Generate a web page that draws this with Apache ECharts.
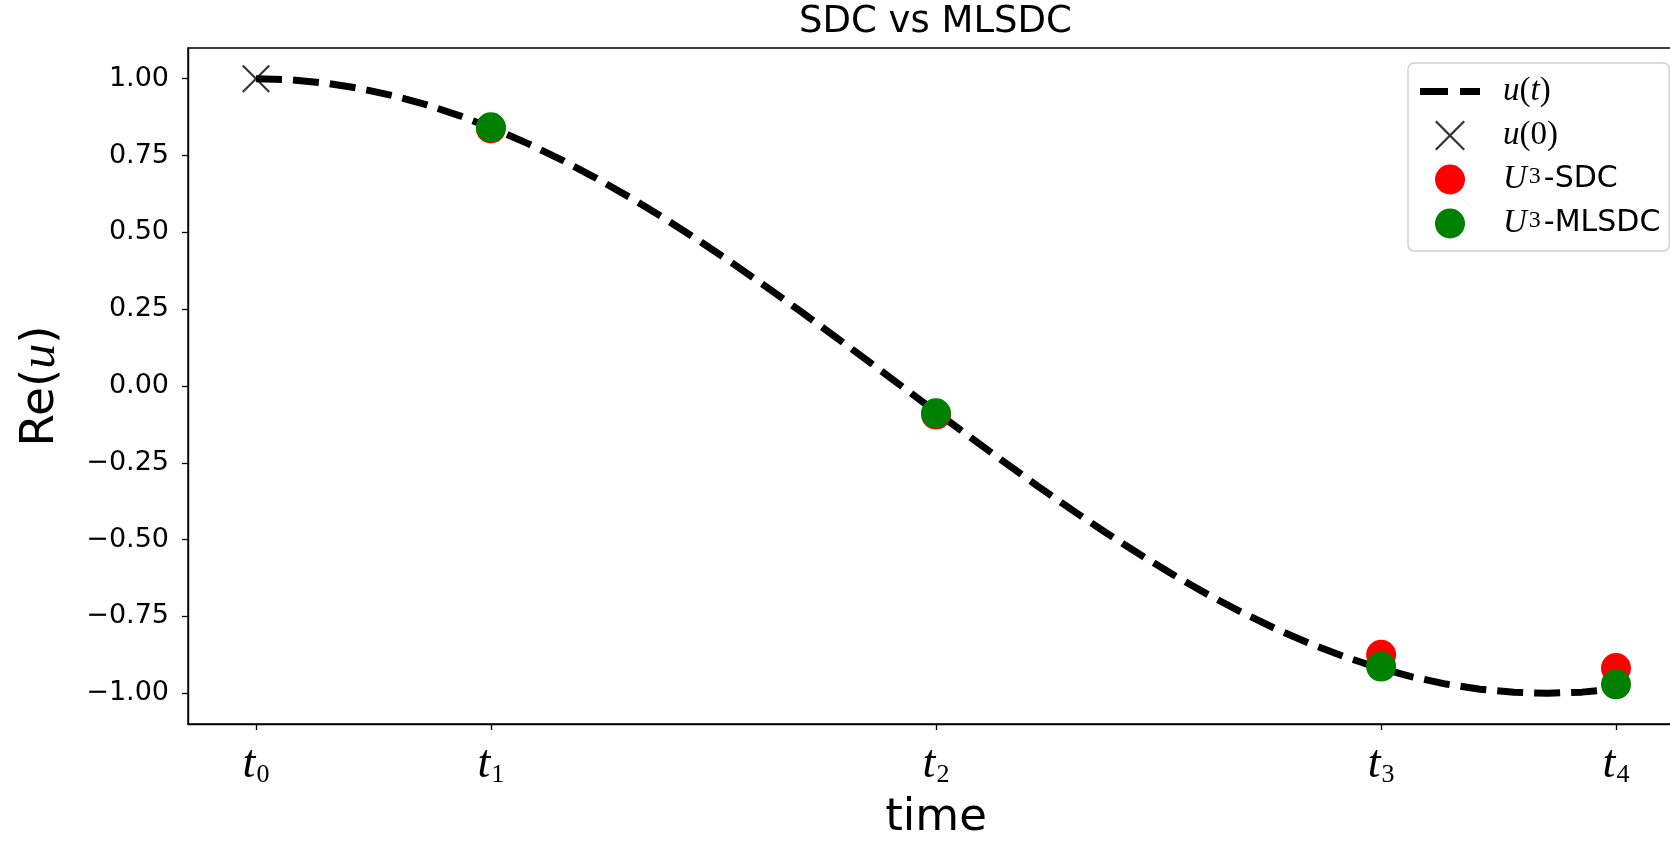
<!DOCTYPE html>
<html>
<head>
<meta charset="utf-8">
<script src="https://cdn.jsdelivr.net/npm/echarts@6/dist/echarts.min.js"></script>
<style>
html,body{margin:0;padding:0;background:#fff;}
#chart{width:1670px;height:845px;}
</style>
</head>
<body>
<div id="chart"></div>
<script>
// ---- data ----
// node positions (normalized time)
const nodeT = [0, 0.1727, 0.5, 0.8273, 1];
const nodeLabels = ['0', '1', '2', '3', '4'];
// exact solution curve samples
const curveT = [0, 0.025, 0.05, 0.075, 0.1, 0.125, 0.15, 0.175, 0.2, 0.225, 0.25, 0.275, 0.3, 0.325, 0.35, 0.375, 0.4, 0.425, 0.45, 0.475, 0.5, 0.525, 0.55, 0.575, 0.6, 0.625, 0.65, 0.675, 0.7, 0.725, 0.75, 0.775, 0.8, 0.825, 0.85, 0.875, 0.9, 0.925, 0.95, 0.975, 1];
const curveU = [1.000, 0.9966, 0.9863, 0.9693, 0.9457, 0.9156, 0.8792, 0.8369, 0.7888, 0.7354, 0.6766, 0.6136, 0.5462, 0.4751, 0.4007, 0.3236, 0.2443, 0.1633, 0.0812, -0.0015, -0.0842, -0.1662, -0.2471, -0.3264, -0.4034, -0.4776, -0.5486, -0.6159, -0.6790, -0.7372, -0.7906, -0.8384, -0.8806, -0.9167, -0.9465, -0.9700, -0.9867, -0.9969, -1.0000, -0.9963, -0.9859];
// initial value
const initT = [0];
const initU = [1.0];
// U^3 values at nodes t1..t4
const sdcT = [0.1727, 0.5, 0.8273, 1];
const sdcU = [0.838, -0.093, -0.875, -0.918];
const mlsdcT = [0.1727, 0.5, 0.8273, 1];
const mlsdcU = [0.842, -0.089, -0.913, -0.971];
// y ticks
const yTicks = [-1, -0.75, -0.5, -0.25, 0, 0.25, 0.5, 0.75, 1];

const pairs = (xs, ys) => xs.map((x, i) => [x, ys[i]]);

const crossPath = 'path://M0,1.6 L1.6,0 L30,28.4 L28.4,30 Z M28.4,0 L30,1.6 L1.6,30 L0,28.4 Z';
const dashPath = 'path://M0,0h28v7h-28z M40,0h20v7h-20z';

const SERIF = "'Liberation Serif', 'DejaVu Serif', serif";
const SANS = "'DejaVu Sans', sans-serif";

const legendRich = {
  g: {width: 18, lineHeight: 30},
  i: {fontFamily: SERIF, fontStyle: 'italic', fontSize: 33, color: '#000', lineHeight: 30},
  r: {fontFamily: SERIF, fontSize: 33, color: '#000', lineHeight: 30},
  sup: {fontFamily: SERIF, fontSize: 24, color: '#000', verticalAlign: 'top', lineHeight: 22, padding: [0, 3, 0, 2]},
  s: {fontFamily: SANS, fontSize: 30, color: '#000', lineHeight: 30}
};
const legendText = {
  'u(t)': '{g|}{i|u}{r|(}{i|t}{r|)}',
  'u(0)': '{g|}{i|u}{r|(0)}',
  'U3-SDC': '{g|}{i|U}{sup|3}{s|-SDC}',
  'U3-MLSDC': '{g|}{i|U}{sup|3}{s|-MLSDC}'
};

const chart = echarts.init(document.getElementById('chart'), null, {renderer: 'canvas'});
chart.setOption({
  animation: false,
  backgroundColor: '#fff',
  title: {
    text: 'SDC vs MLSDC',
    left: 799,
    top: 4,
    padding: 0,
    textStyle: {fontFamily: SANS, fontSize: 37, fontWeight: 'normal', color: '#000'}
  },
  grid: {
    left: 188, width: 1496, top: 48, bottom: 121,
    outerBoundsMode: 'none', containLabel: false,
    show: true, borderColor: '#000', borderWidth: 1.4, backgroundColor: 'transparent'
  },
  legend: {
    orient: 'vertical',
    left: 1408, top: 63,
    padding: [12, 9, 11, 12],
    itemWidth: 60, itemHeight: 30, itemGap: 11,
    borderColor: '#d0d0d0', borderWidth: 1.5, borderRadius: 6,
    backgroundColor: 'rgba(255,255,255,0.8)',
    textStyle: {lineHeight: 30, rich: legendRich},
    formatter: name => legendText[name],
    data: [
      {name: 'u(t)', icon: dashPath, itemStyle: {color: '#000'}},
      {name: 'u(0)', icon: crossPath, itemStyle: {color: '#000'}},
      {name: 'U3-SDC', icon: 'circle'},
      {name: 'U3-MLSDC', icon: 'circle'}
    ],
    selectedMode: false
  },
  xAxis: {
    type: 'value', min: -0.05, max: 1.05,
    name: 'time', nameLocation: 'middle', nameGap: 72,
    nameTextStyle: {fontFamily: SANS, fontSize: 45, color: '#000'},
    axisLine: {show: true, onZero: false, lineStyle: {color: '#000', width: 1.4}},
    axisTick: {show: true, customValues: nodeT, length: 6, lineStyle: {color: '#000', width: 1.3}},
    axisLabel: {
      customValues: nodeT, margin: 18,
      formatter: v => {
        const idx = nodeT.findIndex(n => Math.abs(n - v) < 1e-6);
        return '{t|t}{s|' + nodeLabels[idx] + '}';
      },
      rich: {
        t: {fontFamily: SERIF, fontStyle: 'italic', fontSize: 46, color: '#000'},
        s: {fontFamily: SERIF, fontSize: 26, color: '#000', verticalAlign: 'bottom', padding: [0, 0, 0, 1]}
      }
    },
    splitLine: {show: false}
  },
  yAxis: {
    type: 'value', min: -1.1, max: 1.1,
    name: '{a|Re(}{i|u}{a|)}', nameLocation: 'middle', nameGap: 122, nameRotate: 90,
    nameTextStyle: {
      rich: {
        a: {fontFamily: SANS, fontSize: 47, color: '#000'},
        i: {fontFamily: SERIF, fontStyle: 'italic', fontSize: 50, color: '#000'}
      }
    },
    axisLine: {show: true, onZero: false, lineStyle: {color: '#000', width: 1.4}},
    axisTick: {show: true, customValues: yTicks, length: 6, lineStyle: {color: '#000', width: 1.3}},
    axisLabel: {
      customValues: yTicks, margin: 19,
      fontFamily: SANS, fontSize: 27, color: '#000',
      formatter: v => v.toFixed(2).replace('-', '\u2212')
    },
    splitLine: {show: false}
  },
  series: [
    {
      name: 'u(t)', type: 'line', data: pairs(curveT, curveU),
      showSymbol: false, symbol: 'none', z: 2,
      lineStyle: {color: '#000', width: 7, type: [26, 11], cap: 'butt'},
      itemStyle: {color: '#000'}
    },
    {
      name: 'u(0)', type: 'scatter', data: pairs(initT, initU),
      symbol: crossPath, symbolSize: 28, z: 3,
      itemStyle: {color: '#000'}
    },
    {
      name: 'U3-SDC', type: 'scatter', data: pairs(sdcT, sdcU),
      symbol: 'circle', symbolSize: 30, z: 4,
      itemStyle: {color: '#ff0000', opacity: 1}
    },
    {
      name: 'U3-MLSDC', type: 'scatter', data: pairs(mlsdcT, mlsdcU),
      symbol: 'circle', symbolSize: 30, z: 5,
      itemStyle: {color: '#008000', opacity: 1}
    }
  ]
});
</script>
</body>
</html>
